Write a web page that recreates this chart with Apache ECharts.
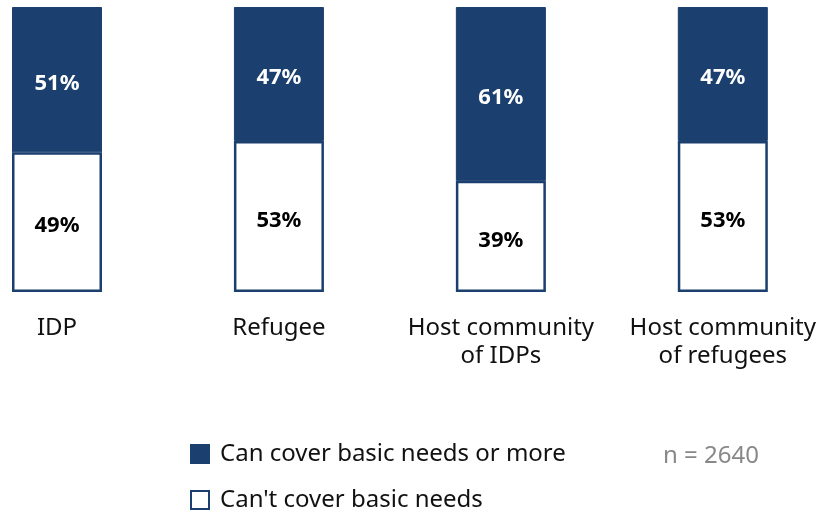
<!DOCTYPE html>
<html>
<head>
<meta charset="utf-8">
<script src="https://cdn.jsdelivr.net/npm/echarts@6/dist/echarts.min.js"></script>
<style>
  html, body { margin: 0; padding: 0; background: #fff; }
  #chart { width: 819px; height: 512px; }
</style>
</head>
<body>
<div id="chart"></div>
<script>
// Population groups and share of households by ability to cover basic needs (%)
var categories = ['IDP', 'Refugee', 'Host community\nof IDPs', 'Host community\nof refugees'];
var canCover = [51, 47, 61, 47];
var cannotCover = [49, 53, 39, 53];
var seriesNames = ['Can cover basic needs or more', "Can't cover basic needs"];
var sampleNote = 'n = 2640';

var navy = '#1b3f6e';
var font = '"Noto Sans", "Open Sans", sans-serif';

function legendFor(name, top) {
  return {
    data: [name],
    left: 185,
    top: top,
    itemWidth: 18,
    itemHeight: 18,
    icon: 'rect',
    selectedMode: false,
    textStyle: { fontSize: 24, color: '#111', fontFamily: font, padding: [0, 0, 0, 6] }
  };
}

var chart = echarts.init(document.getElementById('chart'), null, { renderer: 'canvas' });
chart.setOption({
  animation: false,
  textStyle: { fontFamily: font },
  grid: { left: 57, right: 96, top: 7, bottom: 220, containLabel: false },
  xAxis: {
    type: 'category',
    boundaryGap: false,
    data: categories,
    axisLine: { show: false },
    axisTick: { show: false },
    axisLabel: { interval: 0, color: '#111', fontSize: 24, lineHeight: 28, margin: 22, fontFamily: font }
  },
  yAxis: { type: 'value', min: 0, max: 100, show: false },
  legend: [legendFor(seriesNames[0], 437), legendFor(seriesNames[1], 483)],
  graphic: [{
    type: 'text',
    left: 663,
    top: 444,
    style: { text: sampleNote, fontSize: 24, fill: '#888', fontFamily: font }
  }],
  series: [
    {
      name: seriesNames[1],
      type: 'bar',
      stack: 'total',
      barWidth: 90,
      data: cannotCover,
      itemStyle: { color: '#fff', borderColor: navy, borderWidth: 2.5 },
      label: { show: true, position: 'inside', offset: [0, 4], formatter: '{c}%', color: '#000', fontWeight: 'bold', fontSize: 22, fontFamily: font }
    },
    {
      name: seriesNames[0],
      type: 'bar',
      stack: 'total',
      barWidth: 90,
      data: canCover,
      itemStyle: { color: navy, borderColor: navy, borderWidth: 1 },
      label: { show: true, position: 'inside', offset: [0, 4], formatter: '{c}%', color: '#fff', fontWeight: 'bold', fontSize: 22, fontFamily: font }
    }
  ]
});
</script>
</body>
</html>
